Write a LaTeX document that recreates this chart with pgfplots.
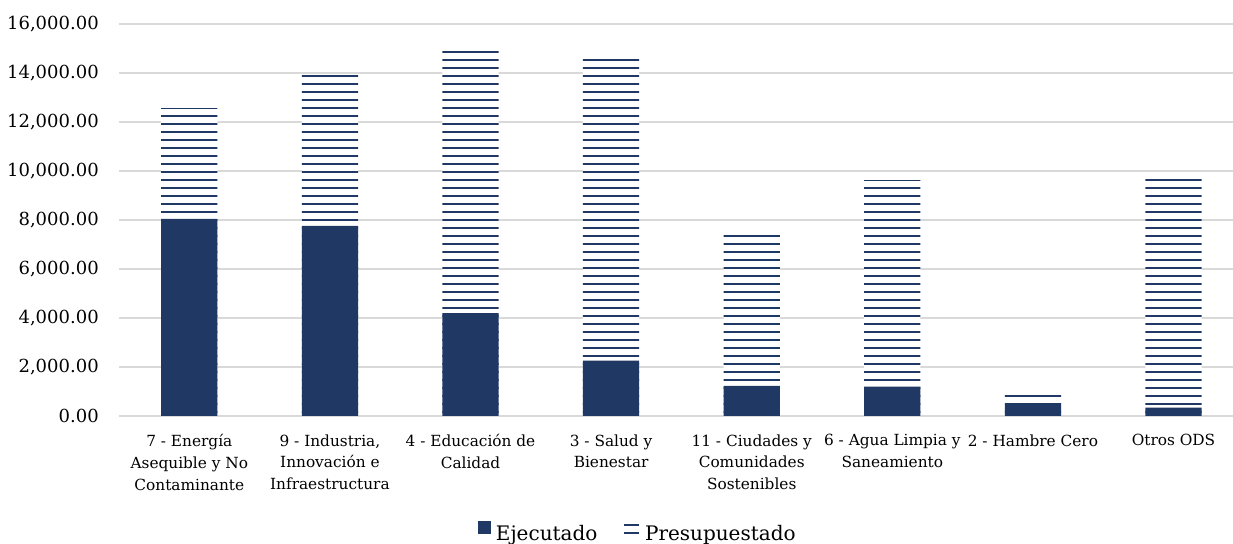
\documentclass[border=0pt]{standalone}
\usepackage{pgfplots}
\pgfplotsset{compat=1.18}
\usepackage{fontspec}
\setmainfont{DejaVu Serif}
\usetikzlibrary{patterns.meta}
\definecolor{navy}{RGB}{32,56,100}
\definecolor{gridgray}{RGB}{217,217,217}
\begin{document}
\begin{tikzpicture}
\begin{axis}[
  name=ax,
  scale only axis,
  width=835.5pt, height=294pt,
  xmin=-0.5, xmax=7.423,
  ymin=0, ymax=16000,
  ytick={0,2000,...,16000},
  scaled y ticks=false,
  xtick={0,...,7},
  xticklabels={{7 - Energía\\Asequible y No\\Contaminante},{9 - Industria,\\Innovación e\\Infraestructura},{4 - Educación de\\Calidad},{3 - Salud y\\Bienestar},{11 - Ciudades y\\Comunidades\\Sostenibles},{6 - Agua Limpia y\\Saneamiento},{2 - Hambre Cero},{Otros ODS}},
  xticklabel style={align=center, font=\fontsize{11.5pt}{16.3pt}\selectfont, inner sep=0pt, yshift=-13.75pt, anchor=north},
  yticklabel style={font=\fontsize{13.5pt}{16pt}\selectfont, inner sep=0pt, xshift=-15pt, anchor=east},
  /pgf/number format/.cd, fixed, fixed zerofill, precision=2, 1000 sep={,}, assume math mode=true,
  /pgfplots/.cd,
  ymajorgrids, grid style={gridgray, line width=1pt},
  major tick length=0pt,
  axis x line*=bottom, axis y line*=left,
  x axis line style={draw=gridgray, line width=1pt, -},
  y axis line style={draw=none},
  ybar, bar width=0.4, bar shift=0pt,
  reverse legend,
  legend style={draw=none, at={(0.466,-0.298)}, anchor=center, legend columns=-1,
    font=\fontsize{15pt}{18pt}\selectfont,
    /tikz/every odd column/.append style={column sep=2pt},
    /tikz/every even column/.append style={column sep=17.5pt}},
]
\addplot[draw=none, fill=white, postaction={pattern={Lines[angle=0,distance=6pt,line width=1.6pt,yshift=3.2pt]}, pattern color=navy},
  legend image code/.code={\draw[navy, line width=1.2pt] (0pt,0.6pt) -- (11pt,0.6pt); \draw[navy, line width=1.2pt] (0pt,6.6pt) -- (11pt,6.6pt);}]
  coordinates {(0,12570) (1,13930) (2,14940) (3,14570) (4,7430) (5,9630) (6,860) (7,9710)};
\addlegendentry{Presupuestado}
\addplot[draw=none, fill=navy,
  legend image code/.code={\fill[navy] (0pt,0pt) rectangle (9.5pt,9.5pt);}]
  coordinates {(0,8050) (1,7760) (2,4200) (3,2260) (4,1230) (5,1200) (6,450) (7,340)};
\addlegendentry{Ejecutado}
\end{axis}
\pgfresetboundingbox
\path ([xshift=-89.25pt, yshift=-96pt]ax.south west) rectangle ([yshift=18pt]ax.north east);
\end{tikzpicture}
\end{document}
